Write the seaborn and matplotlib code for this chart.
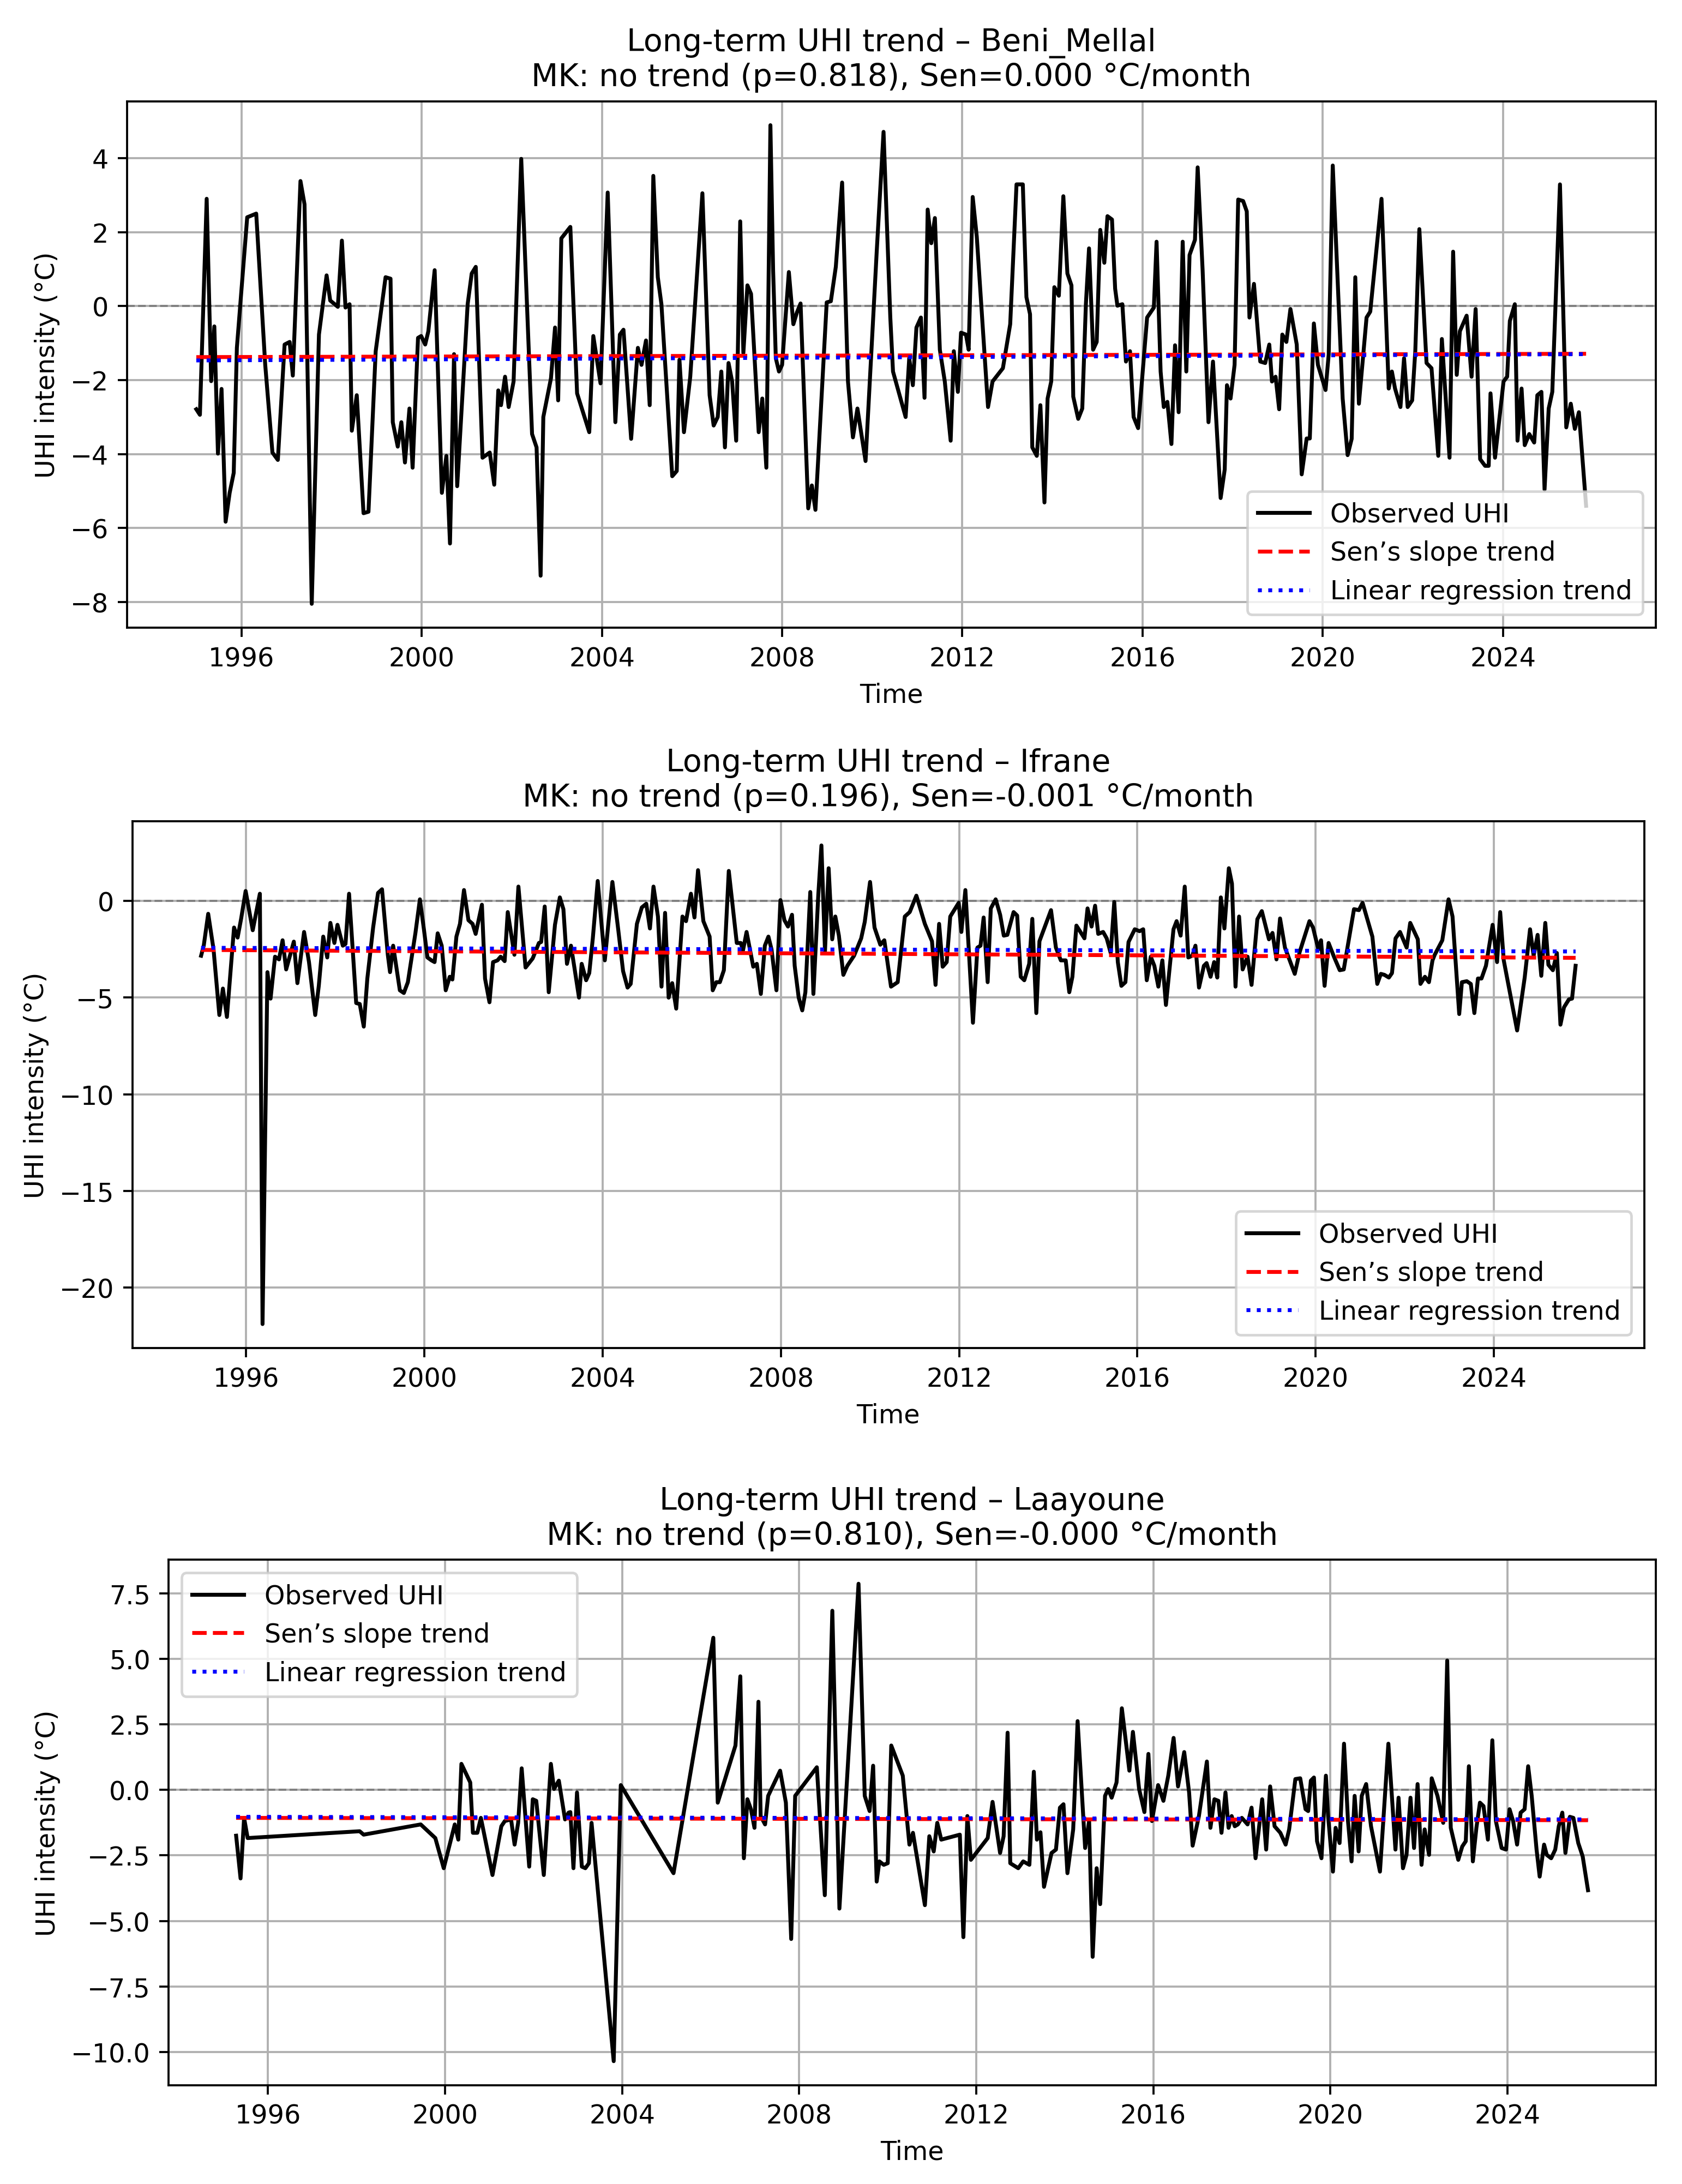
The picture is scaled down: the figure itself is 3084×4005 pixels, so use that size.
import matplotlib
matplotlib.use("Agg")
import matplotlib.pyplot as plt
import seaborn as sns
import pandas as pd

# ---- data (decimal year, UHI in °C) ----
bm_year = [
    1995.00, 1995.08, 1995.23, 1995.33, 1995.40, 1995.48, 1995.56, 1995.65, 1995.74, 1995.83,
    1995.90, 1996.13, 1996.33, 1996.53, 1996.69, 1996.81, 1996.96, 1997.07, 1997.14, 1997.31,
    1997.40, 1997.56, 1997.72, 1997.89, 1997.97, 1998.14, 1998.23, 1998.31, 1998.40, 1998.45,
    1998.56, 1998.71, 1998.82, 1998.98, 1999.20, 1999.31, 1999.36, 1999.47, 1999.55, 1999.63,
    1999.73, 1999.80, 1999.92, 1999.99, 2000.08, 2000.15, 2000.29, 2000.45, 2000.55, 2000.63,
    2000.72, 2000.79, 2001.02, 2001.11, 2001.20, 2001.35, 2001.51, 2001.61, 2001.70, 2001.76,
    2001.85, 2001.93, 2002.04, 2002.21, 2002.45, 2002.55, 2002.64, 2002.70, 2002.87, 2002.96,
    2003.03, 2003.10, 2003.30, 2003.45, 2003.72, 2003.81, 2003.97, 2004.13, 2004.30, 2004.40,
    2004.48, 2004.65, 2004.80, 2004.88, 2004.98, 2005.06, 2005.14, 2005.24, 2005.32, 2005.56,
    2005.66, 2005.72, 2005.82, 2005.96, 2006.23, 2006.39, 2006.48, 2006.57, 2006.65, 2006.73,
    2006.81, 2006.89, 2006.98, 2007.07, 2007.14, 2007.23, 2007.31, 2007.48, 2007.56, 2007.65,
    2007.74, 2007.80, 2007.86, 2007.93, 2008.00, 2008.15, 2008.25, 2008.33, 2008.41, 2008.58,
    2008.66, 2008.74, 2008.99, 2009.08, 2009.19, 2009.33, 2009.46, 2009.57, 2009.67, 2009.85,
    2010.10, 2010.25, 2010.40, 2010.46, 2010.74, 2010.82, 2010.90, 2010.98, 2011.08, 2011.16,
    2011.23, 2011.31, 2011.39, 2011.50, 2011.61, 2011.74, 2011.81, 2011.90, 2011.97, 2012.08,
    2012.14, 2012.23, 2012.32, 2012.57, 2012.67, 2012.90, 2013.06, 2013.20, 2013.34, 2013.42,
    2013.50, 2013.55, 2013.65, 2013.73, 2013.82, 2013.89, 2013.97, 2014.04, 2014.14, 2014.24,
    2014.33, 2014.42, 2014.46, 2014.57, 2014.66, 2014.74, 2014.81, 2014.90, 2014.98, 2015.06,
    2015.15, 2015.22, 2015.32, 2015.39, 2015.44, 2015.55, 2015.63, 2015.72, 2015.80, 2015.90,
    2016.10, 2016.25, 2016.31, 2016.40, 2016.47, 2016.55, 2016.64, 2016.72, 2016.80, 2016.89,
    2016.97, 2017.04, 2017.16, 2017.22, 2017.33, 2017.46, 2017.56, 2017.73, 2017.82, 2017.87,
    2017.95, 2018.04, 2018.12, 2018.23, 2018.31, 2018.37, 2018.47, 2018.61, 2018.72, 2018.81,
    2018.87, 2018.95, 2019.03, 2019.10, 2019.19, 2019.28, 2019.42, 2019.53, 2019.64, 2019.71,
    2019.80, 2019.89, 2020.06, 2020.13, 2020.22, 2020.44, 2020.55, 2020.64, 2020.72, 2020.80,
    2020.97, 2021.05, 2021.30, 2021.46, 2021.53, 2021.60, 2021.72, 2021.80, 2021.88, 2021.98,
    2022.05, 2022.14, 2022.30, 2022.41, 2022.56, 2022.64, 2022.81, 2022.89, 2022.97, 2023.04,
    2023.19, 2023.30, 2023.39, 2023.49, 2023.60, 2023.68, 2023.72, 2023.82, 2024.01, 2024.09,
    2024.15, 2024.26, 2024.32, 2024.41, 2024.48, 2024.58, 2024.69, 2024.76, 2024.85, 2024.92,
    2025.01, 2025.09, 2025.26, 2025.40, 2025.50, 2025.59, 2025.68, 2025.84,
]
bm_uhi = [
    -2.79, -2.94, 2.90, -2.03, -0.55, -3.99, -2.24, -5.83, -5.05, -4.51,
    -1.13, 2.40, 2.50, -1.59, -3.96, -4.16, -1.04, -0.97, -1.88, 3.38,
    2.75, -8.05, -0.77, 0.83, 0.15, -0.02, 1.77, -0.04, 0.05, -3.37,
    -2.41, -5.60, -5.56, -1.22, 0.78, 0.74, -3.14, -3.80, -3.14, -4.23,
    -2.77, -4.37, -0.86, -0.81, -1.04, -0.68, 0.97, -5.05, -4.05, -6.42,
    -1.30, -4.87, 0.05, 0.88, 1.06, -4.10, -3.96, -4.83, -2.28, -2.68,
    -1.91, -2.73, -2.04, 3.98, -3.46, -3.82, -7.29, -3.00, -1.95, -0.58,
    -2.55, 1.83, 2.14, -2.36, -3.41, -0.81, -2.09, 3.07, -3.14, -0.77,
    -0.64, -3.59, -1.13, -1.59, -0.93, -2.68, 3.52, 0.78, 0.05, -4.60,
    -4.46, -1.45, -3.41, -1.91, 3.05, -2.41, -3.23, -3.00, -1.77, -3.82,
    -1.54, -2.04, -3.64, 2.29, -1.27, 0.56, 0.33, -3.41, -2.50, -4.37,
    4.89, 0.97, -1.41, -1.77, -1.59, 0.92, -0.49, -0.17, 0.07, -5.47,
    -4.85, -5.51, 0.10, 0.13, 1.06, 3.34, -2.04, -3.55, -2.77, -4.19,
    1.51, 4.71, -0.31, -1.77, -3.00, -1.41, -2.14, -0.58, -0.31, -2.48,
    2.61, 1.70, 2.38, -1.18, -2.04, -3.64, -1.22, -2.32, -0.72, -0.77,
    -1.18, 2.95, 1.88, -2.73, -2.04, -1.68, -0.49, 3.29, 3.29, 0.24,
    -0.22, -3.82, -4.05, -2.68, -5.31, -2.50, -2.04, 0.51, 0.28, 2.97,
    0.88, 0.56, -2.45, -3.05, -2.77, 0.05, 1.56, -1.18, -0.97, 2.06,
    1.17, 2.43, 2.34, 0.47, 0.01, 0.05, -1.50, -1.22, -3.00, -3.30,
    -0.31, -0.04, 1.74, -1.77, -2.73, -2.59, -3.73, -1.06, -2.87, 1.74,
    -1.77, 1.38, 1.79, 3.75, 0.97, -3.14, -1.50, -5.19, -4.42, -2.14,
    -2.50, -1.59, 2.88, 2.84, 2.56, -0.31, 0.60, -1.50, -1.54, -1.04,
    -2.04, -1.91, -2.79, -0.77, -0.97, -0.08, -1.04, -4.55, -3.58, -3.58,
    -0.47, -1.59, -2.27, -1.31, 3.80, -2.50, -4.03, -3.59, 0.78, -2.64,
    -0.31, -0.15, 2.90, -2.23, -1.77, -2.23, -2.73, -1.41, -2.73, -2.55,
    -1.22, 2.08, -1.54, -1.68, -4.05, -0.89, -4.10, 1.47, -1.86, -0.68,
    -0.26, -1.91, -0.08, -4.14, -4.32, -4.32, -2.36, -4.10, -2.04, -1.91,
    -0.40, 0.05, -3.64, -2.23, -3.76, -3.46, -3.69, -2.41, -2.32, -4.96,
    -2.77, -2.32, 3.29, -3.28, -2.64, -3.32, -2.87, -5.40,
]

if_year = [
    1994.99, 1995.05, 1995.15, 1995.27, 1995.40, 1995.48, 1995.57, 1995.73, 1995.81, 1995.89,
    1995.99, 1996.15, 1996.31, 1996.37, 1996.48, 1996.55, 1996.65, 1996.74, 1996.82, 1996.90,
    1997.07, 1997.15, 1997.30, 1997.41, 1997.55, 1997.63, 1997.73, 1997.82, 1997.89, 1997.98,
    1998.05, 1998.17, 1998.23, 1998.31, 1998.47, 1998.55, 1998.64, 1998.72, 1998.85, 1998.96,
    1999.05, 1999.18, 1999.23, 1999.30, 1999.45, 1999.54, 1999.63, 1999.80, 1999.90, 1999.99,
    2000.07, 2000.16, 2000.23, 2000.30, 2000.39, 2000.48, 2000.57, 2000.63, 2000.72, 2000.80,
    2000.89, 2000.99, 2001.08, 2001.15, 2001.29, 2001.36, 2001.46, 2001.54, 2001.64, 2001.71,
    2001.80, 2001.87, 2002.02, 2002.11, 2002.27, 2002.43, 2002.57, 2002.62, 2002.70, 2002.79,
    2002.93, 2003.04, 2003.12, 2003.20, 2003.29, 2003.37, 2003.47, 2003.53, 2003.63, 2003.70,
    2003.78, 2003.89, 2003.96, 2004.05, 2004.22, 2004.35, 2004.46, 2004.56, 2004.63, 2004.77,
    2004.88, 2004.98, 2005.06, 2005.14, 2005.24, 2005.32, 2005.40, 2005.48, 2005.56, 2005.65,
    2005.79, 2005.87, 2005.98, 2006.06, 2006.14, 2006.26, 2006.40, 2006.47, 2006.55, 2006.63,
    2006.72, 2006.83, 2007.01, 2007.10, 2007.15, 2007.23, 2007.38, 2007.46, 2007.55, 2007.64,
    2007.72, 2007.79, 2007.90, 2007.99, 2008.08, 2008.16, 2008.25, 2008.31, 2008.40, 2008.48,
    2008.55, 2008.66, 2008.73, 2008.84, 2008.91, 2008.99, 2009.07, 2009.15, 2009.22, 2009.30,
    2009.40, 2009.49, 2009.64, 2009.80, 2009.88, 2010.00, 2010.10, 2010.23, 2010.32, 2010.47,
    2010.62, 2010.78, 2010.89, 2011.04, 2011.23, 2011.39, 2011.47, 2011.55, 2011.63, 2011.72,
    2011.80, 2011.99, 2012.05, 2012.14, 2012.31, 2012.41, 2012.48, 2012.55, 2012.64, 2012.71,
    2012.82, 2012.92, 2013.00, 2013.08, 2013.22, 2013.30, 2013.38, 2013.46, 2013.57, 2013.64,
    2013.73, 2013.80, 2014.06, 2014.17, 2014.28, 2014.39, 2014.47, 2014.54, 2014.63, 2014.71,
    2014.81, 2014.88, 2014.97, 2015.05, 2015.12, 2015.23, 2015.31, 2015.40, 2015.48, 2015.56,
    2015.64, 2015.73, 2015.80, 2015.94, 2016.05, 2016.13, 2016.21, 2016.30, 2016.38, 2016.47,
    2016.56, 2016.64, 2016.81, 2016.88, 2016.97, 2017.06, 2017.14, 2017.23, 2017.30, 2017.38,
    2017.49, 2017.55, 2017.64, 2017.72, 2017.79, 2017.87, 2017.95, 2018.05, 2018.12, 2018.20,
    2018.28, 2018.36, 2018.47, 2018.56, 2018.69, 2018.79, 2018.95, 2019.03, 2019.12, 2019.20,
    2019.31, 2019.53, 2019.64, 2019.86, 2019.94, 2020.06, 2020.12, 2020.20, 2020.29, 2020.41,
    2020.54, 2020.63, 2020.86, 2020.97, 2021.05, 2021.27, 2021.38, 2021.46, 2021.54, 2021.64,
    2021.71, 2021.79, 2021.89, 2022.04, 2022.12, 2022.29, 2022.35, 2022.45, 2022.54, 2022.62,
    2022.67, 2022.84, 2022.98, 2023.07, 2023.22, 2023.28, 2023.39, 2023.48, 2023.56, 2023.64,
    2023.72, 2023.82, 2023.97, 2024.07, 2024.14, 2024.22, 2024.52, 2024.69, 2024.81, 2024.89,
    2024.98, 2025.06, 2025.15, 2025.22, 2025.32, 2025.41, 2025.49, 2025.57, 2025.68, 2025.75,
    2025.83,
]
if_uhi = [
    -2.83, -2.31, -0.66, -2.50, -5.90, -4.53, -6.00, -1.37, -1.89, -0.90,
    0.52, -1.51, 0.38, -21.90, -3.68, -5.05, -2.88, -3.02, -2.03, -3.54,
    -2.10, -4.25, -1.60, -3.16, -5.90, -4.39, -1.84, -2.92, -1.13, -2.17,
    -1.23, -2.31, -2.22, 0.38, -5.28, -5.33, -6.50, -4.01, -1.37, 0.42,
    0.61, -2.78, -3.68, -2.31, -4.62, -4.76, -4.20, -1.65, 0.09, -1.46,
    -2.92, -3.07, -3.16, -1.67, -2.31, -4.62, -3.92, -4.06, -1.84, -1.18,
    0.57, -0.99, -1.18, -1.70, -0.19, -4.01, -5.24, -3.16, -3.07, -2.88,
    -3.11, -0.57, -2.78, 0.75, -3.44, -2.97, -2.17, -2.12, -0.28, -4.72,
    -1.23, 0.19, -0.42, -3.25, -2.31, -3.49, -5.00, -3.25, -4.10, -3.73,
    -1.93, 1.04, -0.80, -3.07, 0.99, -1.46, -3.63, -4.48, -4.29, -1.18,
    -0.33, -0.14, -1.42, 0.75, -0.80, -4.43, -0.61, -5.00, -4.25, -5.57,
    -0.80, -1.04, 0.38, -0.85, 1.60, -1.04, -1.84, -4.62, -4.20, -4.20,
    -3.58, 1.56, -2.17, -2.17, -2.55, -1.60, -3.40, -3.25, -4.81, -2.31,
    -1.84, -2.50, -4.62, 0.05, -0.99, -1.32, -0.71, -3.35, -5.00, -5.66,
    -4.72, 0.47, -4.81, 0.33, 2.88, -2.59, 1.70, -1.98, -0.80, -1.79,
    -3.82, -3.35, -2.83, -1.93, -1.08, 0.99, -1.37, -2.26, -2.03, -4.43,
    -4.20, -0.80, -0.57, 0.28, -1.18, -2.08, -4.34, -1.18, -3.40, -3.16,
    -0.80, -0.09, -1.60, 0.57, -6.30, -2.41, -2.31, -0.85, -4.20, -0.38,
    0.09, -0.71, -1.79, -1.75, -0.57, -0.75, -3.92, -4.10, -3.25, -0.92,
    -5.80, -2.08, -0.47, -2.41, -3.07, -3.07, -4.72, -3.92, -1.27, -1.56,
    -1.93, -0.38, -1.32, -0.24, -1.70, -1.60, -1.93, -2.69, -0.05, -3.16,
    -4.39, -4.20, -2.12, -1.46, -1.56, -1.46, -4.10, -2.88, -3.35, -4.43,
    -3.07, -5.38, -1.46, -1.04, -1.79, 0.75, -2.92, -2.83, -2.31, -4.48,
    -3.35, -3.21, -3.92, -3.16, -3.96, 0.19, -1.42, 1.70, 0.90, -4.43,
    -0.80, -3.54, -2.88, -4.34, -0.94, -0.52, -1.98, -1.65, -3.02, -0.90,
    -2.41, -3.77, -2.64, -1.04, -1.37, -2.50, -2.03, -4.39, -2.17, -2.88,
    -3.58, -3.54, -0.42, -0.47, -0.09, -1.84, -4.29, -3.77, -3.82, -3.96,
    -3.73, -1.93, -1.60, -2.41, -1.13, -1.98, -4.29, -3.92, -4.20, -3.07,
    -2.78, -2.03, 0.09, -0.80, -5.85, -4.20, -4.15, -4.29, -5.80, -4.01,
    -4.01, -3.35, -1.23, -3.16, -0.57, -3.07, -6.70, -3.96, -1.46, -2.83,
    -1.75, -3.87, -1.13, -3.30, -3.58, -2.69, -6.40, -5.50, -5.09, -5.05,
    -3.35,
]

la_year = [
    1995.28, 1995.38, 1995.46, 1995.54, 1998.07, 1998.16, 1999.45, 1999.78, 1999.97, 2000.22,
    2000.30, 2000.37, 2000.57, 2000.63, 2000.73, 2000.81, 2001.07, 2001.27, 2001.35, 2001.49,
    2001.57, 2001.65, 2001.73, 2001.90, 2001.98, 2002.06, 2002.23, 2002.39, 2002.46, 2002.57,
    2002.71, 2002.79, 2002.83, 2002.90, 2002.98, 2003.09, 2003.17, 2003.25, 2003.31, 2003.81,
    2003.97, 2005.16, 2006.06, 2006.16, 2006.56, 2006.67, 2006.75, 2006.83, 2006.91, 2006.99,
    2007.08, 2007.13, 2007.23, 2007.30, 2007.57, 2007.70, 2007.82, 2007.91, 2008.40, 2008.58,
    2008.75, 2008.91, 2009.34, 2009.48, 2009.59, 2009.67, 2009.75, 2009.81, 2009.91, 2010.00,
    2010.08, 2010.34, 2010.49, 2010.57, 2010.84, 2010.94, 2011.04, 2011.12, 2011.21, 2011.63,
    2011.71, 2011.80, 2011.88, 2012.26, 2012.37, 2012.54, 2012.62, 2012.71, 2012.77, 2012.95,
    2013.06, 2013.20, 2013.30, 2013.37, 2013.45, 2013.53, 2013.70, 2013.80, 2013.89, 2013.97,
    2014.06, 2014.19, 2014.29, 2014.46, 2014.55, 2014.63, 2014.72, 2014.80, 2014.91, 2014.98,
    2015.06, 2015.17, 2015.29, 2015.46, 2015.54, 2015.68, 2015.80, 2015.89, 2015.97, 2016.11,
    2016.23, 2016.34, 2016.46, 2016.56, 2016.70, 2016.81, 2016.89, 2017.03, 2017.21, 2017.29,
    2017.38, 2017.47, 2017.54, 2017.63, 2017.70, 2017.77, 2017.84, 2017.91, 2018.00, 2018.13,
    2018.22, 2018.31, 2018.46, 2018.55, 2018.64, 2018.74, 2018.87, 2018.99, 2019.07, 2019.21,
    2019.32, 2019.44, 2019.50, 2019.56, 2019.63, 2019.70, 2019.80, 2019.90, 2019.95, 2020.06,
    2020.12, 2020.21, 2020.31, 2020.40, 2020.48, 2020.55, 2020.64, 2020.71, 2020.81, 2020.92,
    2021.12, 2021.31, 2021.47, 2021.54, 2021.64, 2021.72, 2021.81, 2021.89, 2021.97, 2022.06,
    2022.13, 2022.23, 2022.29, 2022.42, 2022.55, 2022.64, 2022.72, 2022.89, 2022.98, 2023.06,
    2023.13, 2023.22, 2023.30, 2023.38, 2023.46, 2023.56, 2023.66, 2023.74, 2023.87, 2023.97,
    2024.05, 2024.13, 2024.22, 2024.30, 2024.39, 2024.47, 2024.55, 2024.66, 2024.73, 2024.83,
    2024.89, 2024.99, 2025.08, 2025.16, 2025.24, 2025.31, 2025.41, 2025.49, 2025.60, 2025.70,
    2025.82,
]
la_uhi = [
    -1.75, -3.38, -1.07, -1.84, -1.58, -1.71, -1.32, -1.84, -2.99, -1.32,
    -1.90, 0.99, 0.28, -1.64, -1.64, -1.07, -3.25, -1.39, -1.19, -1.13,
    -2.09, -1.26, 0.82, -2.93, -0.36, -0.42, -3.25, 0.99, 0.03, 0.35,
    -1.13, -0.87, -0.85, -2.99, -0.10, -2.93, -2.99, -2.80, -1.26, -10.35,
    0.18, -3.18, 5.80, -0.49, 1.69, 4.33, -2.61, -0.36, -0.74, -1.45,
    3.36, -1.00, -1.32, -0.23, 0.73, -0.49, -5.69, -0.23, 0.86, -4.02,
    6.83, -4.53, 7.86, -0.23, -0.81, 0.92, -3.50, -2.73, -2.86, -2.80,
    1.69, 0.54, -2.09, -1.64, -4.40, -1.77, -2.35, -1.26, -1.90, -1.71,
    -5.62, -1.00, -2.67, -1.84, -0.46, -2.41, -1.77, 2.18, -2.80, -2.99,
    -2.73, -2.86, 0.69, -1.90, -1.62, -3.70, -2.41, -2.28, -0.68, -0.55,
    -3.18, -1.51, 2.62, -2.22, -1.19, -6.37, -2.99, -4.36, -0.23, 0.03,
    -0.30, 0.28, 3.11, 0.73, 2.21, 0.03, -0.85, 1.37, -1.19, 0.18,
    -0.42, 0.54, 1.98, 0.13, 1.44, -0.10, -2.13, -1.00, 1.08, -1.45,
    -0.36, -0.42, -1.64, -0.10, -1.45, -1.00, -1.39, -1.32, -1.07, -1.32,
    -0.68, -2.61, -0.36, -2.28, 0.13, -1.39, -1.64, -2.09, -1.51, 0.41,
    0.44, -0.74, -0.81, 0.35, 0.47, -1.96, -2.61, 0.54, -1.00, -3.12,
    -1.45, -2.03, 1.76, -1.19, -2.73, -0.23, -2.35, -0.23, 0.22, -1.39,
    -3.12, 1.76, -2.28, -0.30, -2.99, -2.48, -0.30, -2.22, 0.22, -2.86,
    -1.51, -2.48, 0.44, -0.23, -1.26, 4.93, -1.45, -2.67, -2.16, -1.96,
    0.90, -2.73, -1.45, -0.49, -0.62, -1.90, 1.89, -1.19, -2.22, -2.28,
    -0.74, -1.19, -2.09, -0.87, -0.74, 0.90, -0.23, -2.28, -3.31, -2.09,
    -2.48, -2.61, -2.28, -1.39, -0.87, -2.41, -1.03, -1.07, -2.03, -2.54,
    -3.83,
]

# trend lines: value at first and last observation
bm_sen = [-1.38, -1.29]
bm_lin = [-1.47, -1.30]
if_sen = [-2.53, -2.94]
if_lin = [-2.42, -2.61]
la_sen = [-1.07, -1.16]
la_lin = [-1.03, -1.13]

cities = ["Beni_Mellal", "Ifrane", "Laayoune"]
mk_p = [0.818, 0.196, 0.810]
sen_text = ["0.000", "-0.001", "-0.000"]
legend_loc = ["lower right", "lower right", "upper left"]


def to_dates(years):
    out = []
    for y in years:
        yr = int(y)
        out.append(pd.Timestamp(yr, 1, 1) + pd.Timedelta(days=(y - yr) * 365.25))
    return out


series = [
    (bm_year, bm_uhi, bm_sen, bm_lin),
    (if_year, if_uhi, if_sen, if_lin),
    (la_year, la_uhi, la_sen, la_lin),
]

fig = plt.figure(figsize=(9.0, 11.6906))
# each panel was saved on its own originally, so the axes edges differ a bit
rects = [
    [0.0754, 0.7124, 0.9089, 0.2410],
    [0.0787, 0.3827, 0.8989, 0.2410],
    [0.1002, 0.0453, 0.8841, 0.2404],
]
axes = [fig.add_axes(r) for r in rects]

for ax, city, p, s, loc, (yrs, uhi, sen, lin) in zip(axes, cities, mk_p, sen_text, legend_loc, series):
    assert len(yrs) == len(uhi)
    t = to_dates(yrs)
    ends = [t[0], t[-1]]

    ax.axhline(0, color="gray", linestyle="--", linewidth=0.8)
    sns.lineplot(x=t, y=uhi, ax=ax, color="black", linewidth=1.5,
                 estimator=None, sort=False, label="Observed UHI")
    sns.lineplot(x=ends, y=sen, ax=ax, color="red", linestyle="--",
                 linewidth=1.5, label="Sen\u2019s slope trend")
    sns.lineplot(x=ends, y=lin, ax=ax, color="blue", linestyle=":",
                 linewidth=1.5, label="Linear regression trend")

    ax.set_title(f"Long-term UHI trend \u2013 {city}\n"
                 f"MK: no trend (p={p:.3f}), Sen={s} \u00b0C/month")
    ax.set_xlabel("Time")
    ax.set_ylabel("UHI intensity (\u00b0C)")
    ax.grid(True)
    ax.legend(loc=loc)

fig.savefig("out.png", dpi=342.6667)
